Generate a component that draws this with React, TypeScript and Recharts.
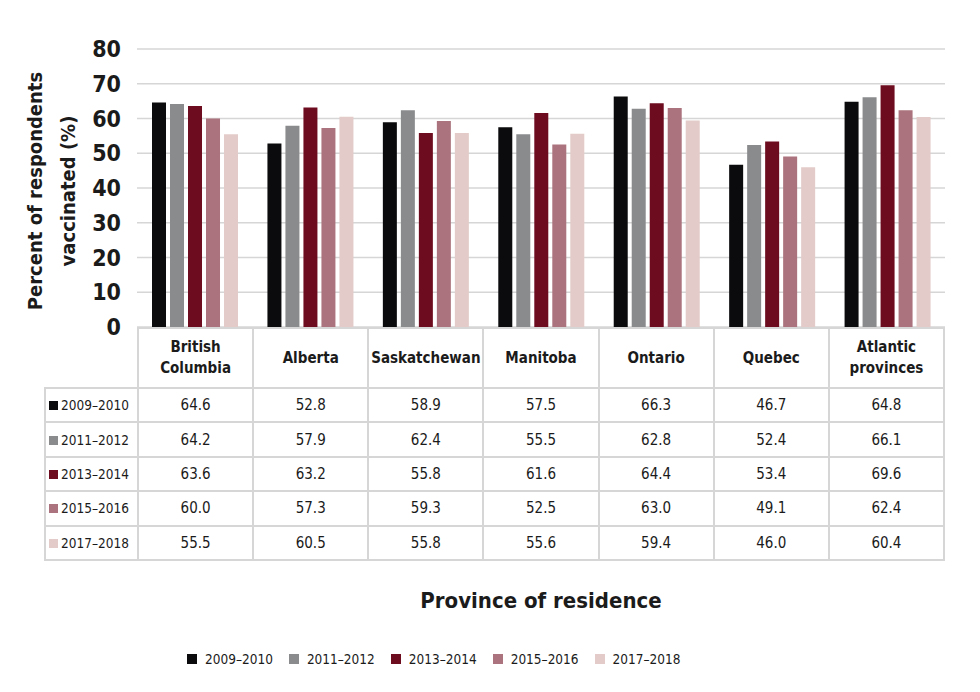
import { Bar, BarChart, CartesianGrid, XAxis, YAxis } from "recharts";

const provinces = [
  "British Columbia",
  "Alberta",
  "Saskatchewan",
  "Manitoba",
  "Ontario",
  "Quebec",
  "Atlantic provinces",
];
const headerLines = [
  ["British", "Columbia"],
  ["Alberta"],
  ["Saskatchewan"],
  ["Manitoba"],
  ["Ontario"],
  ["Quebec"],
  ["Atlantic", "provinces"],
];

const seasons = ["2009–2010", "2011–2012", "2013–2014", "2015–2016", "2017–2018"];
const seasonKeys = ["s0910", "s1112", "s1314", "s1516", "s1718"];
const seasonColors = ["#0b0b0d", "#8a8b8d", "#6d0b1f", "#ab737d", "#e2cbc8"];

const v0910 = [64.6, 52.8, 58.9, 57.5, 66.3, 46.7, 64.8];
const v1112 = [64.2, 57.9, 62.4, 55.5, 62.8, 52.4, 66.1];
const v1314 = [63.6, 63.2, 55.8, 61.6, 64.4, 53.4, 69.6];
const v1516 = [60.0, 57.3, 59.3, 52.5, 63.0, 49.1, 62.4];
const v1718 = [55.5, 60.5, 55.8, 55.6, 59.4, 46.0, 60.4];
const seriesValues = [v0910, v1112, v1314, v1516, v1718];

const yTicks = [0, 10, 20, 30, 40, 50, 60, 70, 80];

const data = provinces.map((name, i) => {
  const row: Record<string, string | number> = { name };
  seasonKeys.forEach((k, s) => {
    row[k] = seriesValues[s][i];
  });
  return row;
});

const FONT = '"DejaVu Sans Condensed", "Liberation Sans Narrow", Roboto, sans-serif';
const GRID = "#d6d6d6";

export default function App() {
  return (
    <div
      style={{
        position: "relative",
        width: 980,
        height: 692,
        background: "#fff",
        fontFamily: FONT,
        color: "#1b1b1b",
        overflow: "hidden",
      }}
    >
      <style>{`body{margin:0}`}</style>

      {/* Y axis title */}
      <div
        style={{
          position: "absolute",
          left: 54 - 150,
          top: 191 - 35,
          width: 300,
          height: 70,
          transform: "rotate(-90deg)",
          textAlign: "center",
          fontWeight: 700,
          fontSize: 20,
          lineHeight: "33px",
        }}
      >
        Percent of respondents
        <br />
        vaccinated (%)
      </div>

      <BarChart
        width={980}
        height={692}
        data={data}
        margin={{ top: 49, right: 35, left: 0, bottom: 365 }}
        barCategoryGap="13%"
        barGap={4}
        style={{ position: "absolute", left: 0, top: 0 }}
      >
        <CartesianGrid vertical={false} stroke={GRID} strokeWidth={1.5} />
        <XAxis dataKey="name" hide />
        <YAxis
          width={137}
          domain={[0, 80]}
          ticks={yTicks}
          interval={0}
          axisLine={false}
          tickLine={false}
          tickMargin={10}
          tick={{ fill: "#1b1b1b", fontSize: 23, fontWeight: 700, fontFamily: FONT }}
        />
        {seasonKeys.map((k, s) => (
          <Bar key={k} dataKey={k} fill={seasonColors[s]} isAnimationActive={false} />
        ))}
      </BarChart>

      {/* Data table */}
      <table
        style={{
          position: "absolute",
          left: 44,
          top: 327,
          width: 945 - 44,
          borderCollapse: "collapse",
          tableLayout: "fixed",
          fontFamily: FONT,
        }}
      >
        <colgroup>
          <col style={{ width: 93 }} />
          {provinces.map((p) => (
            <col key={p} />
          ))}
        </colgroup>
        <tbody>
          <tr style={{ height: 60 }}>
            <td style={{ border: "none", borderBottom: `2px solid ${GRID}` }} />
            {headerLines.map((lines, i) => (
              <td
                key={i}
                style={{
                  border: `2px solid ${GRID}`,
                  textAlign: "center",
                  fontWeight: 700,
                  fontSize: 15,
                  lineHeight: "21px",
                  padding: 0,
                }}
              >
                {lines.map((l, j) => (
                  <div key={j}>{l}</div>
                ))}
              </td>
            ))}
          </tr>
          {seasons.map((season, s) => (
            <tr key={season} style={{ height: 34.4 }}>
              <td
                style={{
                  border: `2px solid ${GRID}`,
                  fontSize: 13.5,
                  padding: "0 0 0 3px",
                  whiteSpace: "nowrap",
                }}
              >
                <span
                  style={{
                    display: "inline-block",
                    width: 9,
                    height: 9,
                    background: seasonColors[s],
                    marginRight: 3,
                  }}
                />
                {season}
              </td>
              {seriesValues[s].map((v, i) => (
                <td
                  key={i}
                  style={{
                    border: `2px solid ${GRID}`,
                    textAlign: "center",
                    fontSize: 15,
                    padding: 0,
                  }}
                >
                  {v.toFixed(1)}
                </td>
              ))}
            </tr>
          ))}
        </tbody>
      </table>

      {/* X axis title */}
      <div
        style={{
          position: "absolute",
          left: 137,
          width: 945 - 137,
          top: 588,
          textAlign: "center",
          fontWeight: 700,
          fontSize: 22,
        }}
      >
        Province of residence
      </div>

      {/* Legend */}
      <div
        style={{
          position: "absolute",
          left: 187,
          top: 651,
          display: "flex",
          gap: 16,
          fontSize: 13.5,
          alignItems: "center",
        }}
      >
        {seasons.map((season, s) => (
          <div key={season} style={{ display: "flex", alignItems: "center" }}>
            <span
              style={{
                display: "inline-block",
                width: 10,
                height: 10,
                background: seasonColors[s],
                marginRight: 8,
              }}
            />
            {season}
          </div>
        ))}
      </div>
    </div>
  );
}
